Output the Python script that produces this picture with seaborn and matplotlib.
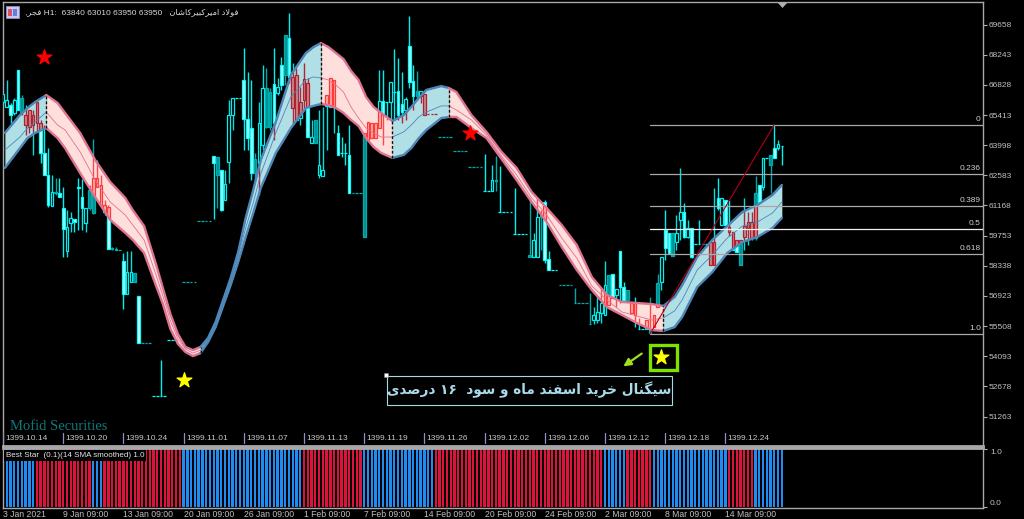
# MetaTrader style chart, candles with ribbon and Best Star panel
import numpy as np
import pandas as pd
import matplotlib
matplotlib.use("Agg")
import matplotlib.pyplot as plt
from matplotlib.patches import Rectangle, Polygon
from matplotlib.transforms import Affine2D
import seaborn as sns

nan = np.nan

# candles, one value per hourly bar
opens = [66020,65790,65880,65500,67530,65550,64940,65650,64940,66020,
         65040,63630,62600,61140,61750,61750,61050,59030,60340,60530,
         62040,61560,60340,61050,60810,62040,62130,61190,61100,59130,
         59080,59080,58560,57010,57580,57580,56920,54710,54710,54710,
         52230,52230,52230,52230,54850,54850,54850,nan,57580,57580,
         57580,57580,60440,60440,60440,60440,63490,62600,62830,61420,
         63210,65410,66210,66210,67060,65230,64800,62690,63160,64000,
         64850,64850,66870,66450,67760,67290,69030,65740,65180,65270,
         66120,66910,64100,64100,62600,62550,65840,65790,65790,64570,
         63630,63630,63540,61750,61750,61750,59690,64240,64330,64330,
         64800,66070,66020,66020,66490,66540,65930,65650,68650,67010,
         66300,66300,66400,65460,65460,65460,64380,64380,64380,64380,
         63720,63720,63720,63720,62970,62970,62970,62970,61850,61850,
         61850,62360,60860,60860,60860,60860,59830,59830,59830,59830,
         58840,58750,58750,60630,61330,58650,58140,58140,57430,57430,
         57430,57430,56590,56590,56590,56590,55600,55790,55790,56120,
         56030,56500,57950,56970,59030,57340,56730,56590,56590,55370,
         55370,55370,55180,55460,56400,57580,60020,59880,58800,59450,
         60490,60860,59690,60110,59360,59360,59360,59360,58370,58370,
         61520,60250,61420,60160,59920,59550,59550,59690,60110,59640,
         59640,62130,62040,63400,63070,63860,63860,63950]
highs = [66400,67060,65980,66210,67530,66350,65880,65650,65650,66020,
         65180,64940,63860,62600,62460,62460,62040,60950,60860,60530,
         62460,62410,61050,62130,64290,63300,62600,61420,61190,59220,
         59220,59080,58940,59030,59030,58000,56920,54710,54710,54710,
         52230,52230,53920,52230,54850,54850,54850,nan,57580,57580,
         57580,57580,60440,60440,60440,60440,63490,63440,62830,62830,
         66120,66210,66210,66210,68560,67430,67060,63630,66020,67760,
         67620,66680,68560,67150,68130,69170,70200,67850,67620,66730,
         67850,67150,65180,65180,65650,65790,66350,67150,67060,64940,
         64380,64100,64940,61750,61750,61750,64570,65080,65040,65040,
         67530,67530,66020,66960,68510,68090,67430,66260,70060,67760,
         67480,66540,66400,65460,65460,65460,64380,64380,64380,64380,
         63720,63720,63720,63720,62970,62970,62970,62970,63580,61850,
         63070,63490,63020,60860,60860,60860,61990,59830,59830,59830,
         61520,59880,61520,60950,61420,59030,58140,58140,57430,57430,
         57430,57430,57290,56590,56590,56590,57060,56400,56870,57340,
         58560,57900,57950,57250,59030,57580,57200,56590,56870,55890,
         55370,55790,56870,56030,57950,58750,60950,59880,59880,60720,
         62930,61280,60490,60110,59360,60490,59360,59360,59450,61990,
         62460,61520,61420,61420,59920,59550,59550,61520,60860,60860,
         62550,62130,63400,63400,63540,64940,64240,63950]
lows = [65980,65790,65040,65410,65650,65410,64470,64560,63540,64620,
        63160,62600,61100,61140,61660,61560,58750,58750,59920,59920,
        60020,60020,59920,60950,60770,62040,61100,60720,59130,59080,
        59080,59080,56310,57010,57580,57580,54710,54710,54710,54710,
        52230,52230,52230,52230,54850,54850,54850,nan,57580,57580,
        57580,57580,60440,60440,60440,60440,60530,61050,60910,61420,
        62220,64710,66210,66210,63770,63770,62360,62360,61660,63770,
        64800,64710,64240,66350,66590,66820,66910,64940,65180,64940,
        65740,64380,64100,64100,62460,62550,63770,65790,64570,63540,
        63440,63070,61750,61750,61750,61750,59690,64240,64330,64330,
        64800,64000,65180,65180,65180,65180,65040,65180,66680,65650,
        66120,65980,65410,65460,65460,65460,64380,64380,64380,64380,
        63720,63720,63720,63720,62970,62970,62970,62970,61850,61850,
        61850,61850,60860,60860,60860,60860,59830,59830,59830,59830,
        58750,58750,58750,59080,58470,58140,58140,58140,57430,57430,
        57430,57430,56590,56590,56590,56590,55600,55600,55650,55650,
        56030,56500,56820,56400,56590,56640,56730,56120,55460,55370,
        55370,55370,55180,55460,56400,57200,58610,58940,58800,59080,
        59550,59640,59640,58700,59360,59360,59360,59360,58370,58370,
        60950,60250,60250,59730,59080,58980,58370,59080,59310,59550,
        59550,61330,61890,63400,61750,63400,63770,63070]
closes = [66400,66120,65410,66120,65650,66210,65410,64850,65410,65040,
          63630,62600,61190,61800,61800,61560,60060,60160,60580,60390,
          61990,61050,61050,61890,62460,62460,61190,60860,59130,59170,
          59130,59080,57010,58040,58040,58000,54710,54710,54710,54710,
          52230,52230,52230,52230,54850,54850,54850,nan,57580,57580,
          57580,57580,60440,60440,60440,60440,63160,63440,60950,62180,
          65410,66210,66210,66210,65230,64330,62690,63350,65040,66680,
          66680,66490,65040,66730,66820,69170,67200,67200,67290,66020,
          67100,64380,64380,65180,63070,62830,66350,67150,67060,63540,
          63630,63630,61750,61750,61750,61750,64570,65080,65040,65040,
          66070,65410,66020,66960,66490,65410,65550,66160,66960,66300,
          66540,66540,65410,65460,65460,65460,64380,64380,64380,64380,
          63720,63720,63720,63720,62970,62970,62970,62970,61850,61850,
          62360,62320,60860,60860,60860,60860,59830,59830,59830,59830,
          58750,59550,60630,60720,58610,58140,58140,58140,57430,57430,
          57430,57430,56590,56590,56590,56590,55600,56030,56170,56590,
          57430,57900,56820,57250,57340,56730,57200,56120,56030,55370,
          55370,55790,55370,56030,57530,58750,59170,58940,59880,59880,
          60860,59690,60110,58750,59360,59360,59360,59360,59450,59450,
          61050,61520,60250,59920,59080,58980,58370,60200,60390,60390,
          61750,61330,63400,63400,63540,63400,64050,63950]
teal_bars = [5,14,23,24,29,30,31,35,37,38,39,48,49,50,51,52,53,54,55,57,67,70,71,
             75,83,93,94,95,96,110,116,117,118,119,120,121,122,123,124,125,126,127,
             131,140,143,148,149,150,151,152,153,154,155,156,161,166,172,174,178,
             196,200,204]

# ribbon readings
ribbon_bars = [0,4,6,8,11,14,16,20,24,28,32,34,37,40,42,44,46,48,50,52,54,56,58,60,62,64,66,68,
               72,76,80,82,84,86,88,90,92,94,96,98,100,103,106,108,110,112,116,118,120,124,
               128,132,136,140,144,148,152,156,160,164,168,172,175,178,180,184,188,192,196,
               200,204,207]
ribbon_upper = [64570,65410,65740,66020,66350,65980,65510,64570,63300,62270,61520,60950,60200,
                58510,57290,56070,55130,54530,54380,54530,54950,55700,56730,57760,58980,60580,
                61890,63300,65080,67290,68320,68600,68790,68600,68320,68040,67480,67060,66260,
                65790,65510,65130,65410,65790,66210,66590,66770,66680,66490,65410,
                64620,63680,62930,61800,61050,60250,59310,57810,56970,56640,56590,56540,56450,
                56870,57430,58750,59550,60200,60860,61190,61660,62130]
ribbon_mid = [63770,64380,64800,65080,65550,64940,64710,63680,62360,61330,60720,60250,59550,
              58000,56920,55750,54900,54430,54240,54380,54850,55560,56590,57620,58750,60110,
              61280,62640,64570,66260,67060,67200,67150,67060,66820,66490,65790,65270,64800,
              64570,64380,64380,64620,64940,65320,65550,65840,65840,65650,65180,
              64470,63490,62600,61520,60720,59640,58700,57390,56730,56170,55980,55790,55890,
              56220,56730,58140,58840,59640,60200,60390,60810,61330]
ribbon_lower = [62930,63860,64330,64570,64800,64330,63860,62690,61560,60490,59880,59550,58940,
                57480,56540,55370,54670,54290,54100,54240,54760,55460,56450,57430,58510,59690,
                60810,61990,63630,64800,65740,65840,65930,65880,65740,65510,65180,64900,64330,
                63910,63630,63400,63540,63860,64330,64710,65270,65320,65320,64800,
                64330,63350,62360,61330,60390,59220,58140,57200,56400,56030,55650,55320,55280,
                55460,55930,57340,58040,58940,59450,59690,60110,60580]
ribbon_trends = [("up",0,11),("down",11,52),("up",52,84),("down",84,103),
                 ("up",103,118),("down",118,175),("up",175,207)]

# fibonacci
fib_levels = [0,0.236,0.389,0.5,0.618,1.0]
fib_labels = ["0","0.236","0.389","0.5","0.618","1.0"]
fib_high = 64960
fib_low = 55150
fib_start = 172
fib_top_bar = 205

red_star_bars = [11,124]
red_star_prices = [68130,64570]
yellow_star_bars = [48,175]
yellow_star_prices = [52980,54060]

price_ticks = [69658,68243,66828,65413,63998,62583,61168,59753,58338,56923,55508,54093,52678,51263]
tick_bars = [0,16,32,48,64,80,96,112,128,144,160,176,192]
shamsi_labels = ["1399.10.14","1399.10.20","1399.10.24","1399.11.01","1399.11.07","1399.11.13",
                 "1399.11.19","1399.11.26","1399.12.02","1399.12.06","1399.12.12","1399.12.18","1399.12.24"]
date_labels = ["3 Jan 2021","9 Jan 09:00","13 Jan 09:00","20 Jan 09:00","26 Jan 09:00","1 Feb 09:00",
               "7 Feb 09:00","14 Feb 09:00","20 Feb 09:00","24 Feb 09:00","2 Mar 09:00","8 Mar 09:00","14 Mar 09:00"]

# Best Star colour per run of bars
star_states = ["b","r","b","r","b","r","b","r","b","r","b","r","b"]
star_lengths = [9,15,3,21,32,16,19,45,6,7,20,7,8]

# letter forms: isolated, final, initial, medial
FORMS = {"س":"\ufeb1\ufeb2\ufeb3\ufeb4","ی":"\ufbfc\ufbfd\ufbfe\ufbff","گ":"\ufb92\ufb93\ufb94\ufb95",
         "ن":"\ufee5\ufee6\ufee7\ufee8","ل":"\ufedd\ufede\ufedf\ufee0","خ":"\ufea5\ufea6\ufea7\ufea8",
         "ف":"\ufed1\ufed2\ufed3\ufed4","م":"\ufee1\ufee2\ufee3\ufee4","ه":"\ufee9\ufeea\ufeeb\ufeec",
         "ص":"\ufeb9\ufeba\ufebb\ufebc","ک":"\ufb8e\ufb8f\ufb90\ufb91","ب":"\ufe8f\ufe90\ufe91\ufe92",
         "ش":"\ufeb5\ufeb6\ufeb7\ufeb8","ج":"\ufe9d\ufe9e\ufe9f\ufea0",
         "ا":"\ufe8d\ufe8e","ر":"\ufead\ufeae","د":"\ufea9\ufeaa","و":"\ufeed\ufeee","\ufefb":"\ufefb\ufefc"}


def shape_fa(text):
    # matplotlib does no arabic shaping, so pick the forms and lay them out visually
    words = []
    for word in text.replace("لا", "\ufefb").split(" "):
        if word.isdigit():
            words.append(word)
            continue
        out = ""
        for k, ch in enumerate(word):
            joins_prev = k > 0 and len(FORMS[word[k - 1]]) == 4
            joins_next = k < len(word) - 1 and len(FORMS[ch]) == 4
            if joins_prev and joins_next:
                out += FORMS[ch][3]
            elif joins_next:
                out += FORMS[ch][2]
            elif joins_prev:
                out += FORMS[ch][1]
            else:
                out += FORMS[ch][0]
        words.append(out[::-1])
    return " ".join(words[::-1])


def draw_candles(ax, keep, bright, hollow, teal, clip=None, zorder=3):
    # keep is a bar mask
    artists = []
    for i in np.where(keep)[0]:
        if i in teal_bars:
            wick, face, edge = teal
        elif closes_a[i] > opens_a[i]:
            wick, face, edge = hollow
        else:
            wick, face, edge = bright
        artists += ax.plot([i, i], [lows_a[i], highs_a[i]], color=wick, lw=1.0, zorder=zorder,
                           solid_capstyle="butt")
        low_b, high_b = min(opens_a[i], closes_a[i]), max(opens_a[i], closes_a[i])
        artists.append(ax.add_patch(Rectangle((i - 0.35, low_b), 0.7, high_b - low_b, facecolor=face,
                                              edgecolor=edge, lw=0.9, zorder=zorder + 0.1)))
    if clip is not None:
        for a in artists:
            a.set_clip_path(clip, transform=ax.transData)


opens_a = np.array(opens, dtype=float)
highs_a = np.array(highs, dtype=float)
lows_a = np.array(lows, dtype=float)
closes_a = np.array(closes, dtype=float)
bars = np.arange(len(opens_a))
valid = ~np.isnan(opens_a)

sns.set_theme(style="dark", rc={"figure.facecolor": "black", "axes.facecolor": "black",
                                "axes.edgecolor": "#a8a8a8", "axes.linewidth": 1.0,
                                "xtick.color": "#c0c0c0", "ytick.color": "#c0c0c0",
                                "text.color": "#d8d8d8", "axes.grid": False})
plt.rcParams["font.family"] = ["Liberation Sans", "DejaVu Sans"]

W, H = 1024, 519
fig = plt.figure(figsize=(W / 100, H / 100), dpi=100)
px = Affine2D().scale(1 / W, -1 / H).translate(0, 1) + fig.transFigure

ax = fig.add_axes([3 / W, 1 - 446 / H, 980 / W, 444 / H])
osc = fig.add_axes([3 / W, 1 - 508 / H, 980 / W, 60 / H])
bar_px = 3.7625
ax.set_xlim(0, 980 / bar_px)
ax.set_ylim(49880, 70716)

# candles under the ribbon
draw_candles(ax, valid,
             ("#00f0f0", "#c0ffff", "#00ffff"),
             ("#00e0e0", "#000000", "#00f0f0"),
             ("#00a8a8", "#009090", "#00acac"))

# ribbon, one piece per trend
rb = np.array(ribbon_bars, dtype=float) + 0.5
rb[-1] = 207
ru = np.array(ribbon_upper, dtype=float)
rm = np.array(ribbon_mid, dtype=float)
rl = np.array(ribbon_lower, dtype=float)
ribbon_knot = np.array(ribbon_bars)
for trend, first, last in ribbon_trends:
    m = (ribbon_knot >= first) & (ribbon_knot <= last)
    fill, edge = ("#b0e0e6", "#4f86b8") if trend == "up" else ("#ffdfdc", "#dd7390")
    poly = ax.fill_between(rb[m], rl[m], ru[m], color=fill, lw=0, zorder=4)
    for series, width in ((ru, 1.7), (rl, 1.7), (rm, 0.6)):
        sns.lineplot(x=rb[m], y=series[m], color=edge, lw=width, ax=ax, estimator=None,
                     sort=False, legend=False, zorder=6)
    # candles seen through the ribbon
    clip = poly.get_paths()[0]
    in_piece = valid & (bars >= rb[m][0]) & (bars <= rb[m][-1])
    if trend == "up":
        look = ("#a82838", "#c88a8a", "#b02030")
    else:
        look = ("#ff4848", "#ffb0b0", "#ff3838")
    draw_candles(ax, in_piece, look, look, look, clip=clip, zorder=5)
    if last != 207:
        ax.vlines(rb[m][-1], rl[m][-1], ru[m][-1], color="#101010", lw=1.0,
                  linestyles=(0, (2, 1.5)), zorder=7)

# fibonacci levels and the swing line
span = fib_high - fib_low
for level, label in zip(fib_levels, fib_labels):
    price = fib_high - level * span
    col = "#f0f0f0" if level == 0.5 else "#a8a8a8"
    ax.plot([fib_start, ax.get_xlim()[1]], [price, price], color=col, lw=0.9, zorder=8)
    ax.text(ax.get_xlim()[1] - 0.6, price + 90, label, ha="right", va="bottom", fontsize=6,
            color="#d0d0d0", zorder=9)
ax.plot([fib_start, fib_top_bar], [fib_low, fib_high], color="#b00018", lw=0.8, zorder=8)

sns.scatterplot(x=red_star_bars, y=red_star_prices, marker="*", s=125, color="#ff0000",
                edgecolor="#ff0000", ax=ax, legend=False, zorder=9)
sns.scatterplot(x=yellow_star_bars, y=yellow_star_prices, marker="*", s=125, color="#ffff00",
                edgecolor="#ffff00", ax=ax, legend=False, zorder=9)

# axis furniture
ax.set_xticks([])
ax.yaxis.tick_right()
ax.set_yticks(price_ticks)
ax.set_yticklabels([str(v) for v in price_ticks], fontsize=6)
ax.tick_params(axis="y", length=3, width=0.8, pad=1, color="#b0b0b0")
for i, label in zip(tick_bars, shamsi_labels):
    ax.plot([i, i], [50000, 50480], color="#8a90c8", lw=0.9, zorder=8)
    ax.text(i + 0.6, 50230, label, fontsize=6, va="center", ha="left", color="#c8c8c8", zorder=9)

# Best Star panel
states = np.repeat(star_states, star_lengths)
star = pd.DataFrame({"bar": np.arange(len(states)), "value": 1.0, "state": states})
sns.barplot(data=star, x="bar", y="value", hue="state", native_scale=True, dodge=False,
            palette={"b": "#1e8cf0", "r": "#dc143c"}, width=0.62, linewidth=0, saturation=1,
            legend=False, ax=osc)
for stripe in osc.patches:
    stripe.set_antialiased(False)
osc.set_xlim(0, 980 / bar_px)
osc.set_ylim(-0.017, 1.017)
osc.set_xlabel("")
osc.set_ylabel("")
osc.set_xticks(tick_bars)
osc.set_xticklabels(date_labels, fontsize=6.2, ha="left")
osc.tick_params(axis="x", length=1.5, width=0.8, pad=0, color="#b0b0b0")
osc.yaxis.tick_right()
osc.set_yticks([0, 1])
osc.set_yticklabels(["0.0", "1.0"], fontsize=6)
osc.tick_params(axis="y", length=3, width=0.8, pad=2, color="#b0b0b0")
osc.get_yticklabels()[0].set_va("bottom")
osc.get_yticklabels()[1].set_va("top")
for spine in osc.spines.values():
    spine.set_linewidth(1.0)
osc.spines["top"].set_linewidth(2.0)
ax.spines["bottom"].set_linewidth(2.0)

# header, icon and watermark
fig.add_artist(Rectangle((6, 6), 13, 12, transform=px, facecolor="#c8c8f0", edgecolor="#9090c0", lw=0.6))
fig.add_artist(Rectangle((8, 9), 4, 7, transform=px, facecolor="#e05060", lw=0))
fig.add_artist(Rectangle((13, 9), 4, 7, transform=px, facecolor="#6080e0", lw=0))
fig.text(25, 12, "," + shape_fa("فجر") + " H1:  63840 63010 63950 63950   " + shape_fa("فولاد امیرکبیرکاشان"),
         transform=px, fontsize=6, va="center", ha="left", color="#d8d8d8")
fig.add_artist(Polygon([(778, 3), (787, 3), (782.5, 8)], closed=True, transform=px, facecolor="#b0b0b0", lw=0))
fig.text(10, 427, "Mofid Securities", transform=px, family="Liberation Serif", fontsize=10.5,
         va="center", ha="left", color="#0f7878")
fig.text(5.5, 455.5, "Best Star  (0.1)(14 SMA smoothed) 1.0", transform=px, fontsize=5.8, va="center",
         ha="left", color="#e8e8e8", zorder=10,
         bbox=dict(facecolor="black", edgecolor="none", pad=1.2))

# signal note
fig.add_artist(Rectangle((650, 345), 27, 25, transform=px, fill=False, edgecolor="#80e000", lw=2.4, zorder=10))
fig.add_artist(Rectangle((386.5, 375.5), 285, 29, transform=px, facecolor="black", edgecolor="#a8d8e0", lw=0.8))
fig.add_artist(Rectangle((384, 373), 4, 4, transform=px, facecolor="white", edgecolor="#808080", lw=0.4))
fig.text(529, 390, shape_fa("سیگنال خرید اسفند ماه و سود  ۱۶ درصدی"), transform=px, family="DejaVu Sans",
         fontsize=9.8, fontweight="bold", ha="center", va="center", color="#a8dcec")
ax.annotate("", xy=(621, 368), xytext=(644, 352), xycoords=px, textcoords=px,
            arrowprops=dict(arrowstyle="-|>", color="#a0e020", lw=1.6, mutation_scale=11), annotation_clip=False)

fig.savefig("out.png", dpi=100, facecolor="black")
